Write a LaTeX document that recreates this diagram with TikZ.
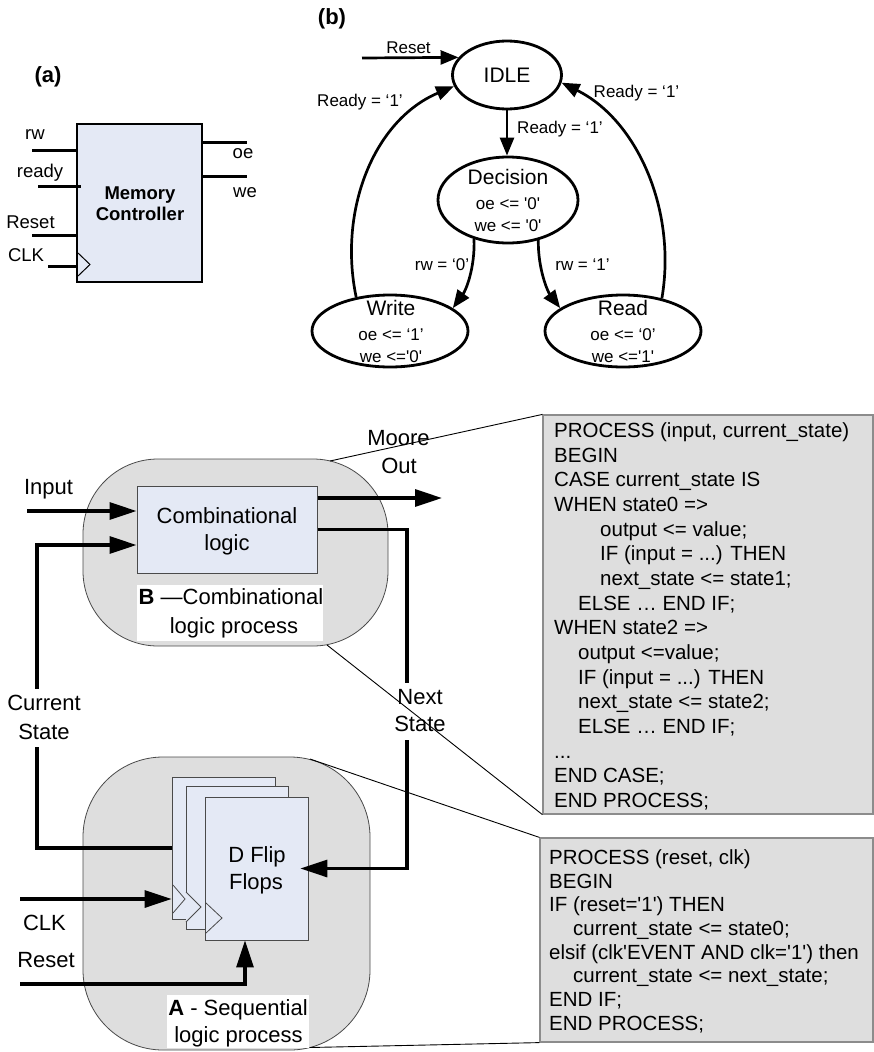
\documentclass[tikz,border=0pt]{standalone}
\usepackage{fontspec}
\setmainfont{Liberation Sans}
\usetikzlibrary{arrows.meta,shapes.geometric}
\definecolor{lblue}{HTML}{E4E9F5}
\definecolor{blobgray}{HTML}{DEDEDE}
\definecolor{edgegray}{HTML}{4A4A4A}
\definecolor{codeedge}{HTML}{8C8C8C}
\newcommand{\sq}{\textquotesingle}
\newcommand{\tdots}{...}
\begin{document}
\begin{tikzpicture}[x=1pt,y=-1pt,
 txt/.style={inner sep=0pt, text depth=0pt},
 tA/.style={txt, font=\fontsize{17}{20}\selectfont, text height=12.2pt},
 tB/.style={txt, font=\fontsize{18.5}{22}\selectfont, text height=13.2pt},
 tBb/.style={txt, font=\bfseries\fontsize{18.5}{22}\selectfont, text height=13.2pt},
 tC/.style={txt, font=\fontsize{21}{25}\selectfont, text height=15pt},
 tD/.style={txt, font=\fontsize{22}{26}\selectfont, text height=15.8pt},
 tDb/.style={txt, font=\bfseries\fontsize{22}{26}\selectfont, text height=15.8pt},
 code/.style={txt, anchor=west, font=\fontsize{20.5}{24}\selectfont, text height=14.7pt},
 wire/.style={line width=3pt},
 sarr/.style={line width=2.7pt, -{Triangle[length=18pt,width=14pt]}},
 larr/.style={line width=3.2pt, -{Triangle[length=27pt,width=17pt]}},
 state/.style={ellipse, draw, line width=2.8pt, inner sep=0pt},
 lightbox/.style={draw=edgegray, fill=lblue, line width=1pt, inner sep=0pt},
 blob/.style={draw=edgegray, fill=blobgray, line width=0.8pt, inner sep=0pt},
 codebox/.style={draw=codeedge, fill=blobgray, line width=1.2pt, inner sep=0pt},
 whitebox/.style={fill=white, inner sep=0pt},
 callout/.style={line width=0.9pt},
 clktri/.style={draw=edgegray, fill=lblue, line width=0.8pt}
]
\useasboundingbox (0,0) rectangle (874,1052);

%%%%%%%%%%%%%%%% (a) %%%%%%%%%%%%%%%%
\node[tDb] (la) at (48,75) {(a)};
\node[draw, line width=2.5pt, fill=lblue, minimum width=125pt, minimum height=158pt, inner sep=0pt] (mc) at (139.5,203) {};
\node[tBb] (mct1) at (140,193) {Memory};
\node[tBb] (mct2) at (140,214) {Controller};
\coordinate (rwa) at (32,150);
\coordinate (rda) at (38,186);
\coordinate (rsa) at (32,235);
\coordinate (cka) at (48,266);
\coordinate (oea) at (247,142);
\coordinate (wea) at (247,176);
\draw[wire] (rwa) -- (rwa -| mc.west);
\draw[wire] (rda) -- ([xshift=5pt]rda -| mc.west);
\draw[wire] (rsa) -- (rsa -| mc.west);
\draw[wire] (cka) -- (cka -| mc.west);
\draw[wire] (mc.east |- oea) -- (oea);
\draw[wire] (mc.east |- wea) -- (wea);
\draw[line width=1pt] (78,253) -- (90,264.5) -- (78,276);
\node[tB] (lrw) at (35,133) {rw};
\node[tB] (lready) at (40,171) {ready};
\node[tB] (lreset) at (30.5,222) {Reset};
\node[tB] (lclk) at (26,255) {CLK};
\node[tB] (loe) at (243,152) {oe};
\node[tB] (lwe) at (245,191) {we};

%%%%%%%%%%%%%%%% (b) %%%%%%%%%%%%%%%%
\node[tDb] (lb) at (332,17) {(b)};
\node[state, tC, minimum width=109pt, minimum height=68pt] (idle) at (507,75) {IDLE};
\node[state, minimum width=140pt, minimum height=86pt] (decision) at (508,200) {};
\node[tC] (dec1) at (508,177) {Decision};
\node[tA] (dec2) at (508,203) {oe <= \sq 0\sq};
\node[tA] (dec3) at (508,225) {we <= \sq 0\sq};
\node[state, minimum width=156pt, minimum height=72pt] (write) at (390,331) {};
\node[tC] (wr1) at (391,308) {Write};
\node[tA] (wr2) at (391,334) {oe <= ‘1’};
\node[tA] (wr3) at (391,356) {we <=\sq 0\sq};
\node[state, minimum width=156pt, minimum height=72pt] (read) at (623,331) {};
\node[tC] (rd1) at (623,308) {Read};
\node[tA] (rd2) at (623,334) {oe <= ‘0’};
\node[tA] (rd3) at (623,356) {we <=\sq 1\sq};

\coordinate (rst) at (362,58);
\draw[sarr] (rst) -- (idle.160);
\draw[sarr] (idle.south) -- (idle.south |- decision.north);
\draw[sarr] (write.135) .. controls (338,210) and (374,120) .. (idle.192);
\draw[sarr] (read.40) .. controls (677,210) and (637,120) .. (idle.-8);
\draw[sarr] (decision.229) .. controls (475,268) and (466,290) .. (write.20);
\draw[sarr] (decision.307) .. controls (538,270) and (548,292) .. (read.160);

\node[tA] (lrst) at (408.5,47) {Reset};
\node[tA] (lrdy1) at (360,100) {Ready = ‘1’};
\node[tA] (lrdy2) at (636.5,91) {Ready = ‘1’};
\node[tA] (lrdy3) at (560,127) {Ready = ‘1’};
\node[tA] (lrw0) at (442,264) {rw = ‘0’};
\node[tA] (lrw1) at (582.5,264) {rw = ‘1’};

%%%%%%%%%%%%%%%% lower diagram %%%%%%%%%%%%%%%%
\node[blob, rounded corners=75pt, minimum width=305pt, minimum height=187pt] (blobB) at (235.5,552.5) {};
\node[blob, rounded corners=80pt, minimum width=287pt, minimum height=293pt] (blobA) at (226.5,903.5) {};

\node[lightbox, minimum width=180pt, minimum height=87pt] (comb) at (227,529.5) {};
\node[tD] (cmb1) at (227,516) {Combinational};
\node[tD] (cmb2) at (227,543) {logic};

\node[whitebox, minimum width=186pt, minimum height=56pt] (blbl) at (230,613) {};
\node[tD] (blbl1) at (231,597) {\textbf{B} —Combinational};
\node[tD] (blbl2) at (234,626) {logic process};

% flip flops
\node[lightbox, line width=0.8pt, minimum width=103pt, minimum height=142pt] (ff1) at (223.5,848) {};
\draw[clktri] (173,885) -- (185,899) -- (173,913);
\node[lightbox, line width=0.8pt, minimum width=102pt, minimum height=143pt] (ff2) at (237,857.5) {};
\draw[clktri] (186,892) -- (201,907) -- (186,922);
\node[lightbox, line width=0.8pt, minimum width=103pt, minimum height=143pt] (ff3) at (256.5,868.5) {};
\draw[clktri] (206,903) -- (222,918) -- (206,933);
\node[tD] (ff1t) at (257,855) {D Flip};
\node[tD] (ff2t) at (256,882) {Flops};

\node[whitebox, minimum width=142pt, minimum height=53pt] (albl) at (238,1021.5) {};
\node[tD] (albl1) at (238,1008) {\textbf{A} - Sequential};
\node[tD] (albl2) at (238.5,1035) {logic process};

% connectors
\coordinate (inp) at (27,511);
\draw[larr] (inp) -- (inp -| comb.west);
\coordinate (cs) at (37,848);
\coordinate (csin) at (0,545);
\draw[larr] (ff1.west |- cs) -- (cs) |- (comb.west |- csin);
\coordinate (mo) at (442,498);
\draw[larr] (comb.east |- mo) -- (mo);
\coordinate (ns) at (407,868.5);
\draw[larr] (comb.east) -| (ns) -- ([xshift=-8pt]ff3.east);
\coordinate (clk) at (20,899);
\draw[larr] (clk) -- (clk -| ff1.west);
\coordinate (rs) at (20,984);
\coordinate (rsc) at (245,984);
\draw[larr] (rs) -- (rsc) -- (rsc |- ff3.south);

% labels
\node[tD] (linp) at (48.5,487) {Input};
\node[tD] (lmoore) at (398.5,438) {Moore};
\node[tD] (lout) at (399,466) {Out};
\node[whitebox, minimum width=80pt, minimum height=58pt] (cslbl) at (44,718) {};
\node[tD] (lcs1) at (44,703) {Current};
\node[tD] (lcs2) at (44,732) {State};
\node[whitebox, minimum width=54pt, minimum height=57pt] (nslbl) at (420,711.5) {};
\node[tD] (lns1) at (420,697) {Next};
\node[tD] (lns2) at (420,724) {State};
\node[tD] (lclk2) at (44.5,923) {CLK};
\node[tD] (lrs2) at (46,960) {Reset};

% code boxes
\node[codebox, minimum width=330pt, minimum height=399pt] (code1) at (708,614.5) {};
\node[codebox, minimum width=333pt, minimum height=204pt] (code2) at (706.5,940) {};

\foreach \ln [count=\i] in {
 {PROCESS (input, current\_state)},
 {BEGIN},
 {CASE current\_state IS},
 {WHEN state0 =>},
 {\hspace*{46pt}output <= value;},
 {\hspace*{46pt}IF (input = \tdots) THEN},
 {\hspace*{46pt}next\_state <= state1;},
 {\hspace*{24pt}ELSE … END IF;},
 {WHEN state2 =>},
 {\hspace*{24pt}output <=value;},
 {\hspace*{24pt}IF (input = \tdots) THEN},
 {\hspace*{24pt}next\_state <= state2;},
 {\hspace*{24pt}ELSE … END IF;},
 {\tdots},
 {END CASE;},
 {END PROCESS;}}
 \node[code] (cA\i) at (554,{430+24.67*(\i-1)}) {\ln};

\foreach \ln [count=\i] in {
 {PROCESS (reset, clk)},
 {BEGIN},
 {IF (reset=\sq 1\sq) THEN},
 {\hspace*{24pt}current\_state <= state0;},
 {elsif (clk\sq EVENT AND clk=\sq 1\sq) then},
 {\hspace*{24pt}current\_state <= next\_state;},
 {END IF;},
 {END PROCESS;}}
 \node[code] (cB\i) at (549,{857+23.7*(\i-1)}) {\ln};

% callout lines
\coordinate (cb1) at (330,461);
\coordinate (cb2) at (327,645);
\coordinate (ca1) at (310,759);
\coordinate (ca2) at (310,1047.5);
\draw[callout] (cb1) -- (code1.north west);
\draw[callout] (cb2) -- (code1.south west);
\draw[callout] (ca1) -- (code2.north west);
\draw[callout] (ca2) -- (code2.south west);
\end{tikzpicture}
\end{document}
